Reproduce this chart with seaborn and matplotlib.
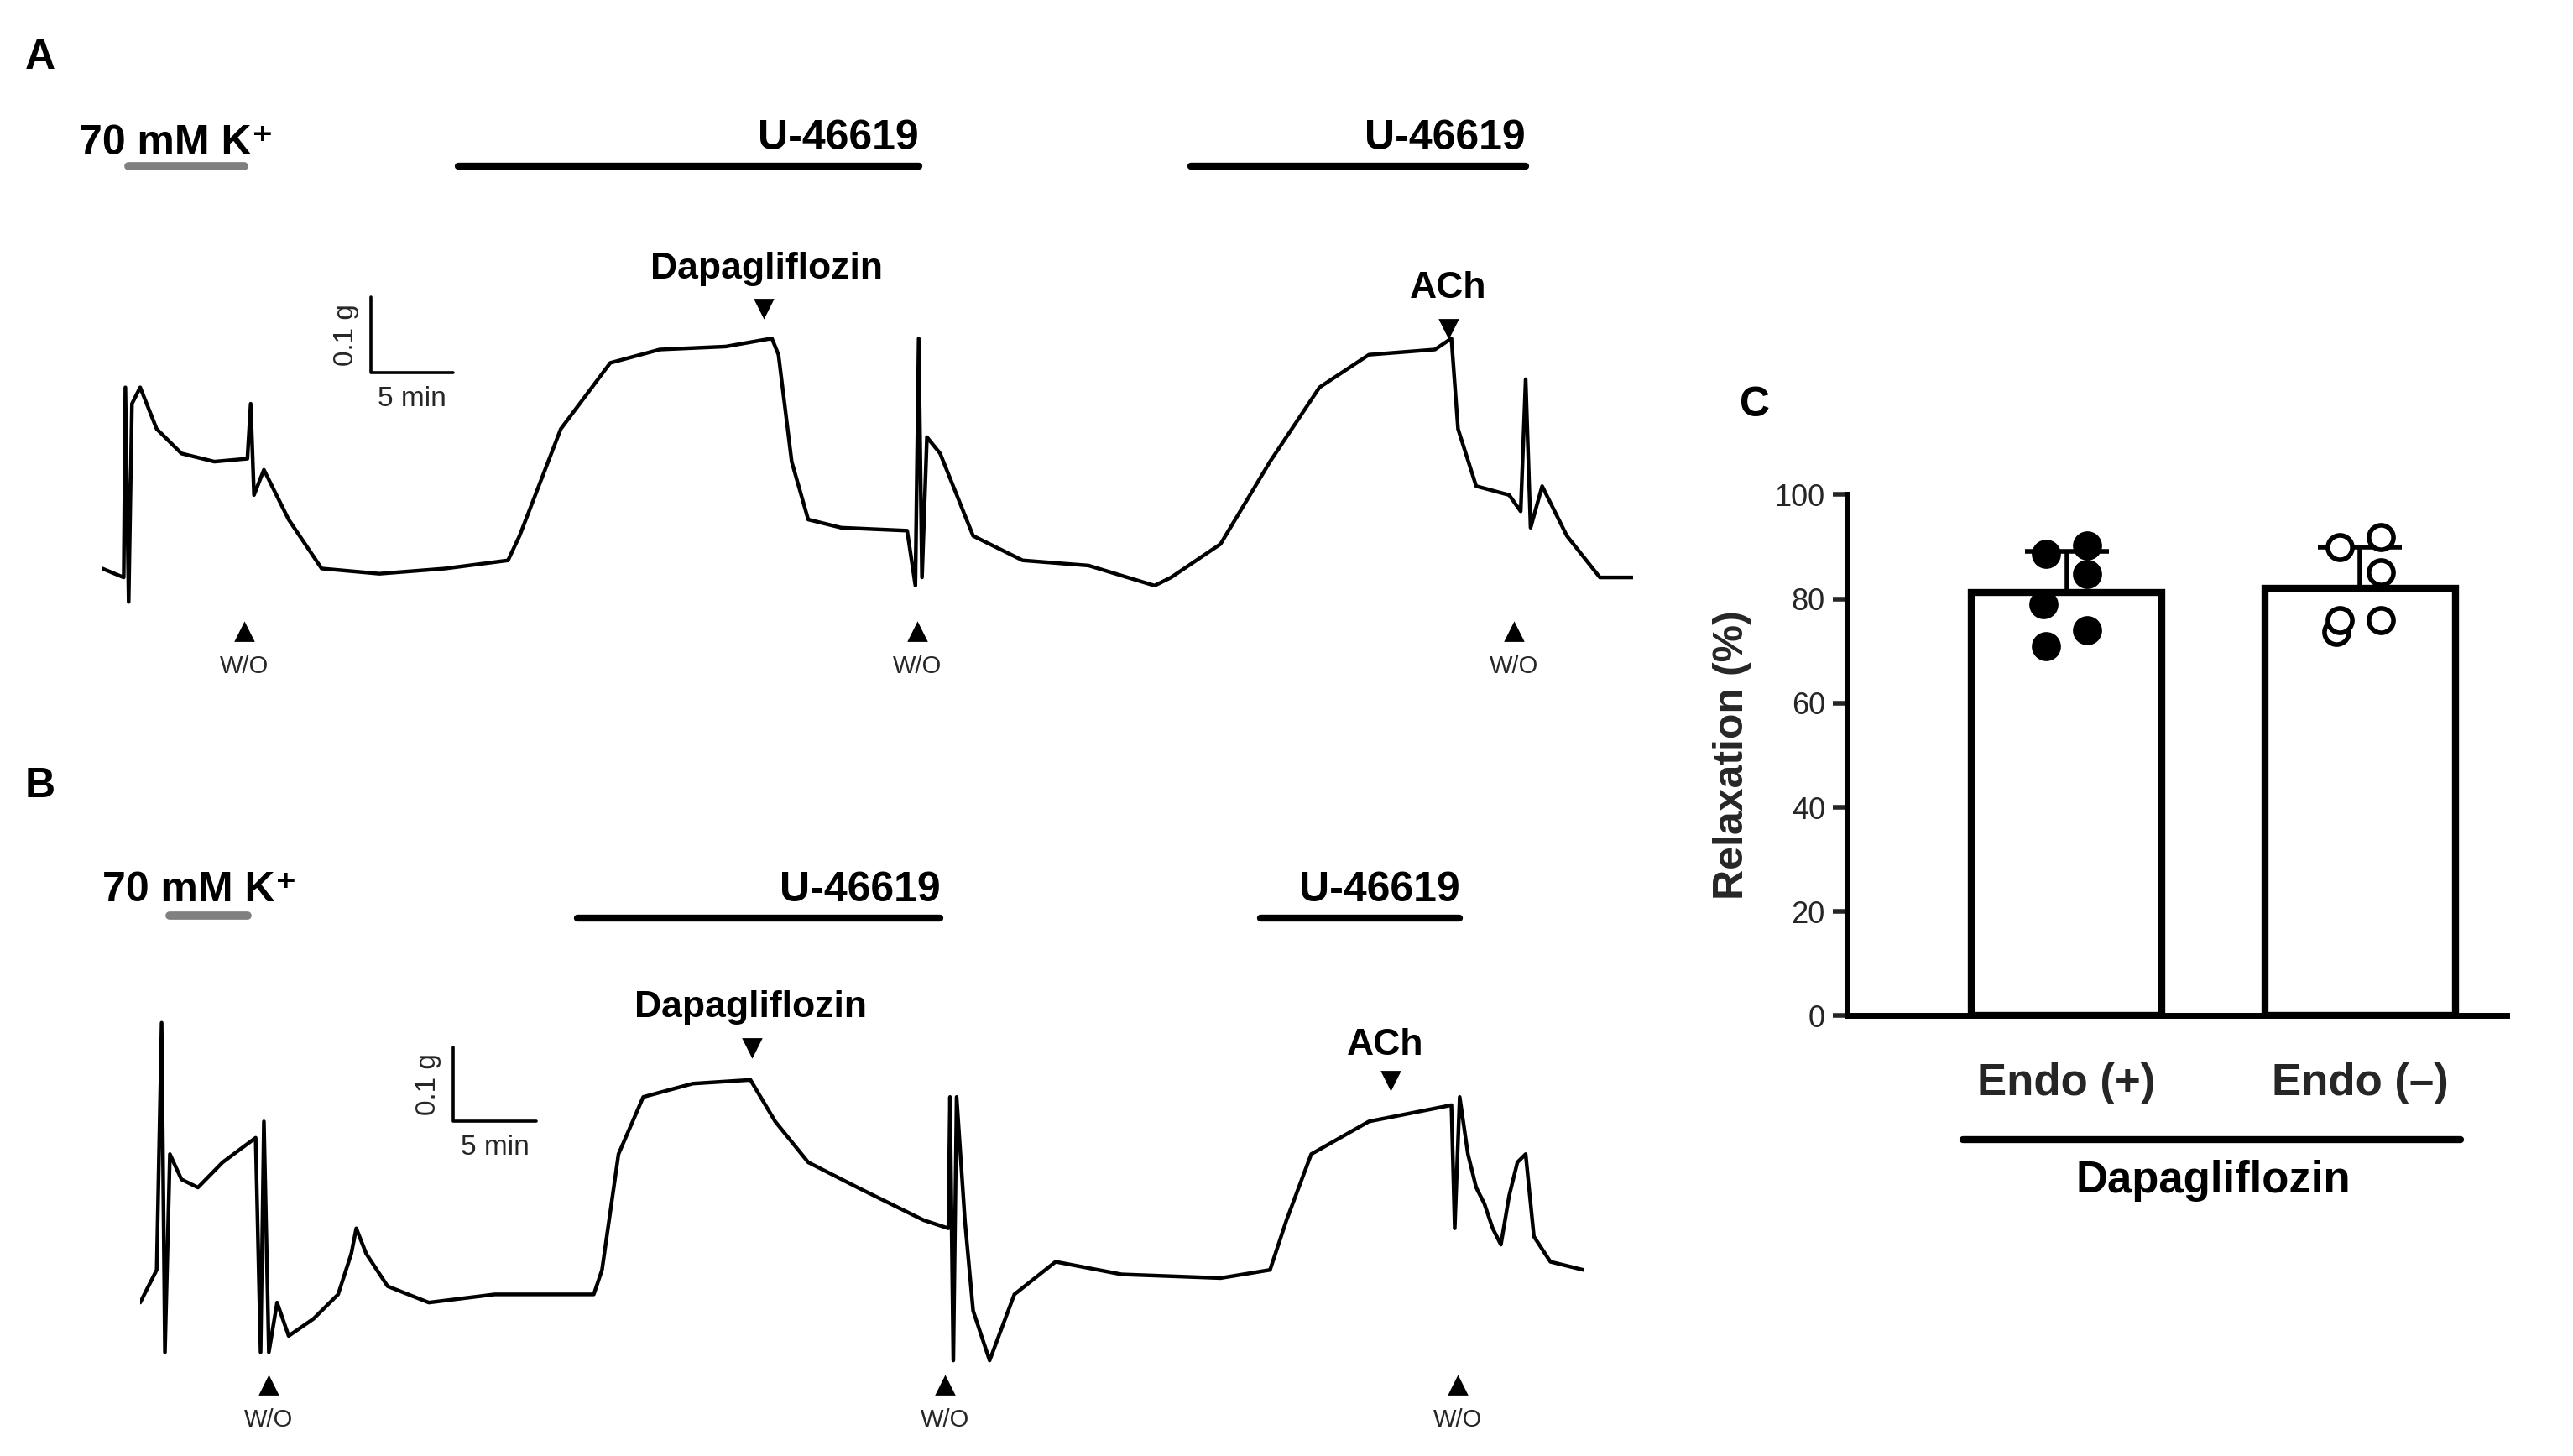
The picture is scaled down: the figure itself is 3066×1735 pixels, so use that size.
import matplotlib
matplotlib.use("Agg")
import matplotlib.pyplot as plt
import seaborn as sns
import pandas as pd
import numpy as np

sns.set_theme(style="white")
plt.rcParams['font.family'] = ['Liberation Sans', 'DejaVu Sans']

# ---------------- data ----------------
trace_a_min = [0, 1.3, 1.4, 1.6, 1.8, 2.3, 3.3, 4.8, 6.8, 8.8, 9.0, 9.2, 9.8, 11.3, 13.3, 16.8, 20.8,
               24.6, 25.3, 27.8, 30.8, 33.8, 37.8, 40.6, 41.0, 41.8, 42.8, 44.8, 48.8, 49.3, 49.5, 49.7,
               50.0, 50.8, 52.8, 55.8, 59.8, 63.8, 64.8, 67.8, 70.8, 73.8, 76.8, 80.8, 81.8, 82.2, 83.3,
               85.3, 86.0, 86.3, 86.6, 87.3, 88.8, 90.8, 92.8]
trace_a_mg = [56, 44, 300, 11, 278, 300, 244, 211, 200, 204, 278, 155, 189, 122, 56, 49, 56,
              67, 100, 244, 333, 351, 355, 366, 344, 200, 122, 111, 107, 33, 366, 44,
              233, 211, 100, 67, 60, 33, 44, 89, 200, 300, 344, 351, 366, 244, 167,
              155, 133, 311, 111, 167, 100, 44, 44]
trace_b_min = [0, 1.0, 1.3, 1.5, 1.8, 2.5, 3.5, 5.0, 7.0, 7.3, 7.5, 7.8, 8.3, 9.0, 10.5, 12.0, 12.8,
               13.1, 13.7, 15.0, 17.5, 21.5, 27.5, 28.0, 29.0, 30.5, 33.5, 37.0, 38.5, 40.5, 43.5,
               47.5, 49.0, 49.1, 49.3, 49.5, 50.0, 50.5, 51.5, 53.0, 55.5, 59.5, 65.5, 68.5, 69.5,
               71.0, 74.5, 79.5, 79.7, 80.0, 80.5, 81.0, 81.5, 82.0, 82.5, 83.0, 83.5, 84.0, 84.5,
               85.5, 87.5]
trace_b_mg = [89, 133, 466, 22, 289, 255, 244, 278, 311, 22, 333, 22, 89, 44, 67, 100, 155,
              189, 155, 111, 89, 100, 100, 133, 289, 366, 384, 389, 333, 278, 244,
              200, 189, 366, 11, 366, 200, 78, 11, 100, 144, 127, 122, 133, 200,
              289, 333, 355, 189, 366, 289, 244, 222, 189, 167, 233, 278, 289, 178,
              144, 133]

groups = ["Endo (+)", "Endo (\u2013)"]
endo_plus = [88.6, 90.2, 84.8, 79.0, 74.0, 71.0]
endo_minus = [89.9, 91.8, 85.1, 73.7, 75.9, 75.9]

# ---------------- figure ----------------
W, H = 1560, 883
fig = plt.figure(figsize=(15.33, 8.675), dpi=200)

def fax(l, t, w, h):
    return fig.add_axes([l / W, 1 - (t + h) / H, w / W, h / H])

axA = fax(62, 180, 928, 190)
axA.plot(trace_a_min, trace_a_mg, color='black', lw=1.6)
axA.set_xlim(0, 92.8); axA.set_ylim(0, 422); axA.axis('off')
axB = fax(85, 600, 875, 230)
axB.plot(trace_b_min, trace_b_mg, color='black', lw=1.6)
axB.set_xlim(0, 87.5); axB.set_ylim(0, 511); axB.axis('off')

ov = fig.add_axes([0, 0, 1, 1], zorder=5)
ov.set_xlim(0, W); ov.set_ylim(H, 0); ov.axis('off')
ov.patch.set_alpha(0)
B = dict(fontweight='bold', color='black')

def tri(x, y, up=True):
    ov.plot([x], [y], marker='^' if up else 'v', color='black', ms=7)

ov.text(15, 35, 'A', fontsize=18, va='center', **B)
ov.text(15, 477, 'B', fontsize=18, va='center', **B)
ov.text(1055, 246, 'C', fontsize=18, va='center', **B)

for (x0, y0, gx0, gx1, gy) in [(48, 87, 78, 148, 101), (62, 540, 103, 150, 555)]:
    ov.text(x0, y0, '70 mM K\u207a', fontsize=18, va='center', ha='left', **B)
    ov.plot([gx0, gx1], [gy, gy], color='#808080', lw=3.5)

for (x0, x1, y) in [(278, 557, 101), (722, 925, 101), (350, 570, 557), (764, 885, 557)]:
    ov.plot([x0, x1], [y, y], color='black', lw=3)
    ov.text(x1, y - 17, 'U-46619', fontsize=18, ha='right', va='center', **B)

ov.text(465, 163, 'Dapagliflozin', fontsize=16, ha='center', va='center', **B)
tri(463, 187, False)
ov.text(878, 175, 'ACh', fontsize=16, ha='center', va='center', **B)
tri(878, 199, False)
ov.text(455, 611, 'Dapagliflozin', fontsize=16, ha='center', va='center', **B)
tri(456, 635, False)
ov.text(840, 634, 'ACh', fontsize=16, ha='center', va='center', **B)
tri(843, 655, False)

for (x, y) in [(148, 383), (556, 383), (918, 383), (163, 840), (573, 840), (884, 840)]:
    tri(x, y, True)
    ov.text(x, y + 21, 'W/O', fontsize=10.5, ha='center', va='center')

for (cx, cy, top) in [(225, 226, 180), (275, 680, 635)]:
    ov.plot([cx, cx, cx + 50], [top, cy, cy], color='black', lw=1.3)
    ov.text(cx - 15, (top + cy) / 2, '0.1 g', fontsize=12, rotation=90, ha='center', va='center')
    ov.text(cx + 25, cy + 16, '5 min', fontsize=12, ha='center', va='center')

# panel C
axC = fax(1120, 300, 400, 316)
df = pd.DataFrame({'group': [groups[0]] * len(endo_plus) + [groups[1]] * len(endo_minus),
                   'value': endo_plus + endo_minus})
sns.barplot(data=df, x='group', y='value', ax=axC, width=0.65, color='white',
            edgecolor='black', linewidth=3, errorbar=None, zorder=2)
for i, vals in enumerate([endo_plus, endo_minus]):
    m, sd = np.mean(vals), np.std(vals, ddof=1)
    axC.errorbar([i], [m], yerr=[[0], [sd]], color='black', capsize=18, capthick=2,
                 elinewidth=2, zorder=3)
offsets = [-0.07, 0.07, 0.07, -0.08, 0.07, -0.07]
for i, (vals, fc) in enumerate([(endo_plus, 'black'), (endo_minus, 'white')]):
    axC.scatter([i + o for o in offsets], vals, s=110, facecolor=fc, edgecolor='black',
                linewidth=2, zorder=5)
axC.set_xlim(-0.747, 1.5)
axC.set_ylim(0, 100)
axC.set_yticks([0, 20, 40, 60, 80, 100])
axC.set_xlabel(''); axC.set_ylabel('Relaxation (%)', fontsize=18, fontweight='bold', labelpad=10)
axC.tick_params(axis='y', labelsize=13, length=6, width=2, left=True)
axC.tick_params(axis='x', labelsize=19, length=0, pad=20)
for lab in axC.get_xticklabels():
    lab.set_fontweight('bold')
sns.despine(ax=axC)
for s in ['left', 'bottom']:
    axC.spines[s].set_linewidth(2.5)
    axC.spines[s].set_color('black')

ov.plot([1190, 1492], [691, 691], color='black', lw=3)
ov.text(1342, 716, 'Dapagliflozin', fontsize=19, ha='center', va='center', **B)

fig.savefig('out.png', dpi=200, facecolor='white')
